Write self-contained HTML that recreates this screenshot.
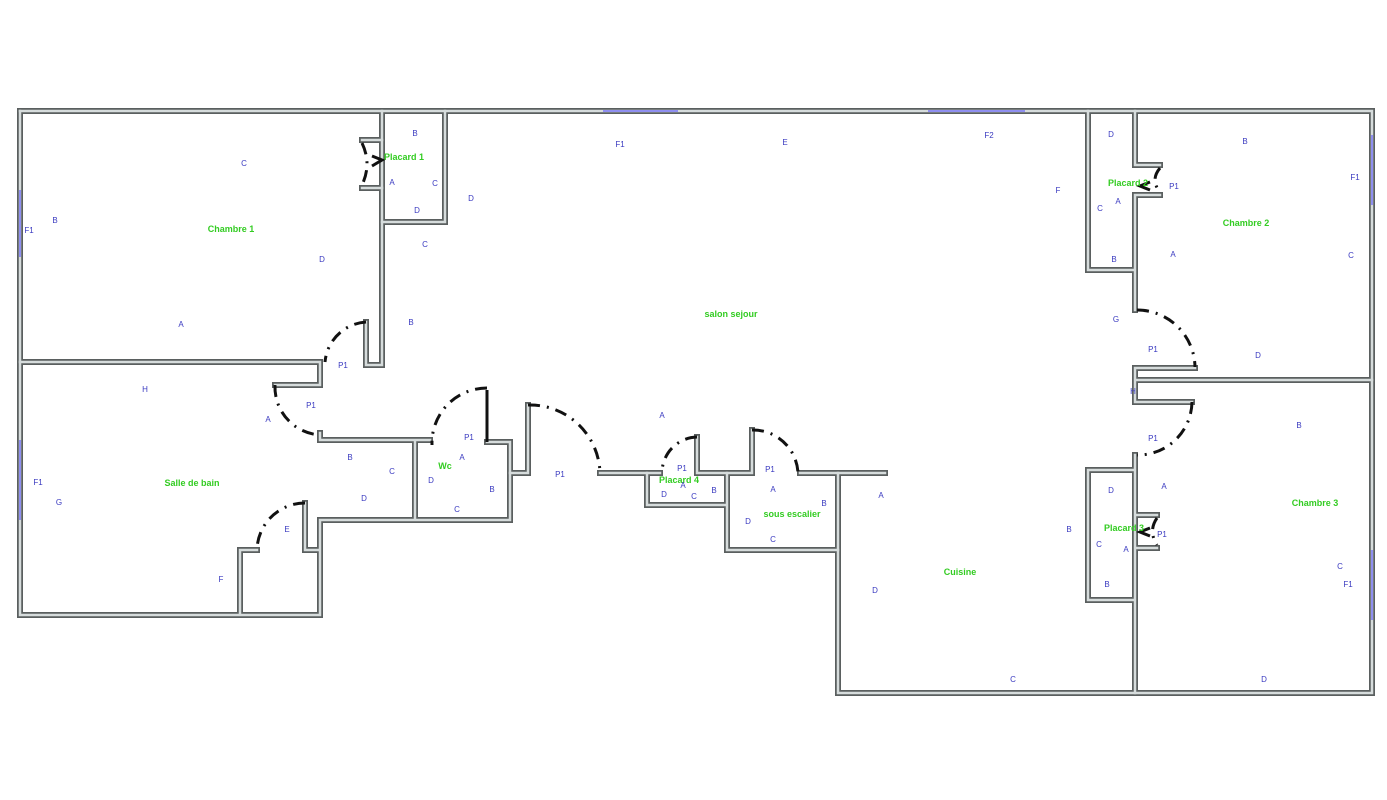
<!DOCTYPE html>
<html><head><meta charset="utf-8"><style>
html,body{margin:0;padding:0;background:#fff;}
svg{display:block;}
.w{stroke:#5a5f5f;stroke-width:6;stroke-linejoin:miter;stroke-linecap:square;}
.wi{stroke:#d6dcdc;stroke-width:2.5;stroke-linejoin:miter;stroke-linecap:square;}
.d{fill:none;stroke:#111;stroke-width:3;stroke-dasharray:12 7 2 7;}
.l{stroke:#111;stroke-width:3;fill:none;}
.win{stroke:#8f8ff0;stroke-width:2;}
.g{font-family:"Liberation Sans",sans-serif;font-size:9px;font-weight:bold;fill:#33cc22;text-anchor:middle;}
.b{font-family:"Liberation Sans",sans-serif;font-size:8px;fill:#3a3ac0;text-anchor:middle;}
</style></head><body>
<svg width="1387" height="800" viewBox="0 0 1387 800" xmlns="http://www.w3.org/2000/svg">
<defs>
<g id="walls" fill="none">
<path d="M20 111 H1372 V693 H838 V473 H885 M838 473 V693"/>
<path d="M20 111 V615 H320 V520 H510 V442 H487 M240 615 V550 H257 M305 503 V550 H320"/>
<path d="M20 362 H320 V385 H275 M320 433 V440 H430"/>
<path d="M382 111 V365 H366 M366 365 V322"/>
<path d="M382 140 H362 M382 188 H362 M382 222 H445 V111"/>
<path d="M415 442 V518"/>
<path d="M510 473 H528 M528 473 V405 M600 473 H660 M697 473 V437 M697 473 H752 V430 M800 473 H838"/>
<path d="M647 473 V505 H727 V473 M727 505 V550 H838"/>
<path d="M1088 111 V270 H1135 M1135 111 V165 H1160 M1135 195 H1160 M1135 195 V310"/>
<path d="M1137 368 H1195 M1135 368 V402 H1192 M1137 380 H1372"/>
<path d="M1135 455 V693 M1135 470 H1088 V600 H1135 M1135 515 H1157 M1135 548 H1157"/>
</g>
</defs>
<use href="#walls" class="w"/>
<use href="#walls" class="wi"/>
<line class="win" x1="603" y1="111" x2="678" y2="111"/>
<line class="win" x1="928" y1="111" x2="1025" y2="111"/>
<line class="win" x1="20" y1="190" x2="20" y2="257"/>
<line class="win" x1="20" y1="440" x2="20" y2="520"/>
<line class="win" x1="1372" y1="135" x2="1372" y2="205"/>
<line class="win" x1="1372" y1="550" x2="1372" y2="620"/>
<path class="d" d="M366 322 A44 44 0 0 0 325 362"/>
<path class="d" d="M275 385 A48 48 0 0 0 320 435"/>
<path class="d" d="M487 388 A55 55 0 0 0 432 445"/>
<line class="l" x1="487" y1="390" x2="487" y2="442"/>
<path class="d" d="M528 405 A70 70 0 0 1 600 473"/>
<path class="d" d="M697 437 A36 36 0 0 0 662 473"/>
<path class="d" d="M752 430 A45 45 0 0 1 798 473"/>
<path class="d" d="M305 503 A48 48 0 0 0 257 550"/>
<path class="d" d="M1137 310 A58 58 0 0 1 1195 367"/>
<path class="d" d="M1192 402 A54 54 0 0 1 1137 455"/>
<path class="d" d="M362 143 Q372 164 362 185"/>
<path class="d" d="M1160 168 Q1150 180 1160 192"/>
<path class="d" d="M1157 518 Q1148 531 1157 545"/>
<path class="l" d="M372 156 L382 160 L372 166"/>
<path class="l" d="M1150 182 L1140 186 L1150 190"/>
<path class="l" d="M1150 528 L1140 532 L1150 536"/>
<text class="g" x="231" y="232">Chambre 1</text>
<text class="g" x="404" y="160">Placard 1</text>
<text class="g" x="731" y="317">salon sejour</text>
<text class="g" x="192" y="486">Salle de bain</text>
<text class="g" x="445" y="469">Wc</text>
<text class="g" x="679" y="483">Placard 4</text>
<text class="g" x="792" y="517">sous escalier</text>
<text class="g" x="960" y="575">Cuisine</text>
<text class="g" x="1128" y="186">Placard 2</text>
<text class="g" x="1246" y="226">Chambre 2</text>
<text class="g" x="1124" y="531">Placard 3</text>
<text class="g" x="1315" y="506">Chambre 3</text>
<g class="b">
<text x="244" y="166">C</text><text x="29" y="233">F1</text><text x="55" y="223">B</text><text x="322" y="262">D</text><text x="181" y="327">A</text>
<text x="415" y="136">B</text><text x="392" y="185">A</text><text x="435" y="186">C</text><text x="417" y="213">D</text>
<text x="471" y="201">D</text><text x="425" y="247">C</text><text x="411" y="325">B</text><text x="343" y="368">P1</text>
<text x="620" y="147">F1</text><text x="785" y="145">E</text><text x="989" y="138">F2</text><text x="1058" y="193">F</text>
<text x="145" y="392">H</text><text x="311" y="408">P1</text><text x="268" y="422">A</text><text x="350" y="460">B</text><text x="392" y="474">C</text><text x="364" y="501">D</text>
<text x="38" y="485">F1</text><text x="59" y="505">G</text><text x="287" y="532">E</text><text x="221" y="582">F</text>
<text x="469" y="440">P1</text><text x="462" y="460">A</text><text x="431" y="483">D</text><text x="492" y="492">B</text><text x="457" y="512">C</text>
<text x="560" y="477">P1</text><text x="662" y="418">A</text>
<text x="682" y="471">P1</text><text x="683" y="488">A</text><text x="664" y="497">D</text><text x="694" y="499">C</text><text x="714" y="493">B</text>
<text x="770" y="472">P1</text><text x="773" y="492">A</text><text x="824" y="506">B</text><text x="748" y="524">D</text><text x="773" y="542">C</text>
<text x="881" y="498">A</text><text x="875" y="593">D</text><text x="1013" y="682">C</text><text x="1069" y="532">B</text>
<text x="1111" y="137">D</text><text x="1118" y="204">A</text><text x="1100" y="211">C</text><text x="1114" y="262">B</text><text x="1174" y="189">P1</text>
<text x="1245" y="144">B</text><text x="1355" y="180">F1</text><text x="1173" y="257">A</text><text x="1351" y="258">C</text>
<text x="1116" y="322">G</text><text x="1153" y="352">P1</text><text x="1258" y="358">D</text><text x="1133" y="394">H</text>
<text x="1299" y="428">B</text><text x="1153" y="441">P1</text><text x="1164" y="489">A</text><text x="1111" y="493">D</text>
<text x="1162" y="537">P1</text><text x="1099" y="547">C</text><text x="1126" y="552">A</text><text x="1107" y="587">B</text>
<text x="1340" y="569">C</text><text x="1348" y="587">F1</text><text x="1264" y="682">D</text>
</g>
</svg>
</body></html>
